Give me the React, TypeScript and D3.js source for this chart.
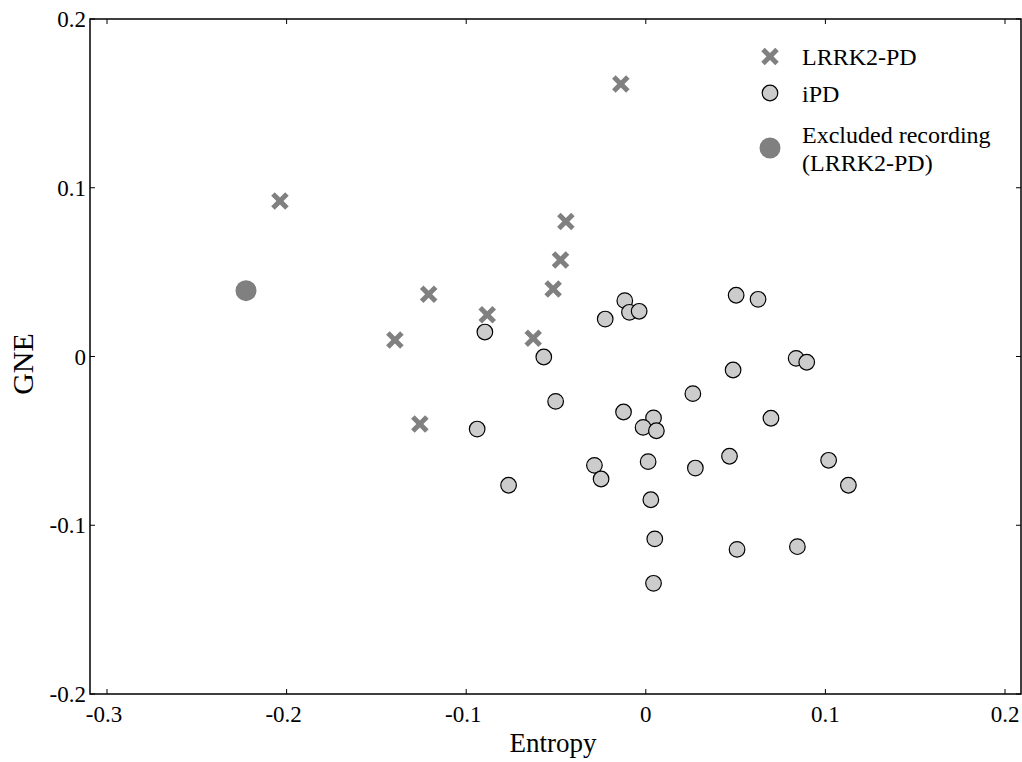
import React from "react";
import * as d3 from "d3";

const lrrkX = [-0.0139, -0.2037, -0.0445, -0.0475, -0.0516, -0.1209, -0.0883, -0.1397, -0.0627, -0.1258];
const lrrkY = [0.1615, 0.0921, 0.08, 0.0572, 0.04, 0.0369, 0.0248, 0.0098, 0.0108, -0.04];

const ipdX = [-0.0117, -0.0091, -0.0037, -0.0226, 0.0503, 0.0625, -0.0896, -0.0568, 0.0837, 0.0896, 0.0486, 0.0262, -0.0502, 0.0697, -0.0124, 0.0043, -0.0015, 0.0059, -0.0939, -0.0286, -0.0249, -0.0764, 0.0013, 0.0276, 0.0466, 0.1018, 0.1128, 0.0028, 0.005, 0.0508, 0.0844, 0.0043];
const ipdY = [0.0331, 0.0262, 0.0268, 0.0222, 0.0363, 0.0339, 0.0145, -0.0003, -0.0011, -0.0034, -0.008, -0.022, -0.0266, -0.0366, -0.0329, -0.0364, -0.042, -0.044, -0.043, -0.0645, -0.0726, -0.0763, -0.0623, -0.0661, -0.0591, -0.0615, -0.0763, -0.0849, -0.1081, -0.1143, -0.1127, -0.1344];

const excludedX = [-0.2226];
const excludedY = [0.039];

const xTicks = [-0.3, -0.2, -0.1, 0, 0.1, 0.2];
const yTicks = [-0.2, -0.1, 0, 0.1, 0.2];
const legendLabels = ["LRRK2-PD", "iPD", "Excluded recording", "(LRRK2-PD)"];

const FONT = "Liberation Serif, Times New Roman, serif";

export default function App() {
  const W = 1022, H = 762;
  const left = 90, right = 1021, top = 19, bottom = 694;
  const x = d3.scaleLinear().domain([-0.3, 0.2]).range([107, 1005]);
  const y = d3.scaleLinear().domain([-0.2, 0.2]).range([bottom, top]);
  const fmt = (v: number) => (Math.abs(v) < 1e-9 ? "0" : v.toFixed(1));
  const tl = 5;
  const cross = (cx: number, cy: number, key: string) => {
    const s = 7;
    return (
      <g key={key} stroke="#808080" strokeWidth={5} strokeLinecap="butt">
        <line x1={cx - s} y1={cy - s} x2={cx + s} y2={cy + s} />
        <line x1={cx - s} y1={cy + s} x2={cx + s} y2={cy - s} />
      </g>
    );
  };
  const ts = { fontFamily: FONT };
  return (
    <svg width={W} height={H} style={{ position: "absolute", left: 0, top: 0, display: "block" }}>
      <rect x={0} y={0} width={W} height={H} fill="#fff" />
      <rect x={left} y={top} width={right - left} height={bottom - top} fill="none" stroke="#000" strokeWidth={1.5} />
      {xTicks.map((t) => (
        <g key={"xt" + t}>
          <line x1={x(t)} x2={x(t)} y1={bottom} y2={bottom - tl} stroke="#000" strokeWidth={1} />
          <line x1={x(t)} x2={x(t)} y1={top} y2={top + tl} stroke="#000" strokeWidth={1} />
          <text x={x(t) - (t < 0 ? 3 : 0)} y={bottom + 28} fontSize={23} textAnchor="middle" style={ts}>{fmt(t)}</text>
        </g>
      ))}
      {yTicks.map((t) => (
        <g key={"yt" + t}>
          <line x1={left} x2={left + tl} y1={y(t)} y2={y(t)} stroke="#000" strokeWidth={1} />
          <line x1={right} x2={right - tl} y1={y(t)} y2={y(t)} stroke="#000" strokeWidth={1} />
          <text x={left - 4} y={y(t) + 8} fontSize={23} textAnchor="end" style={ts}>{fmt(t)}</text>
        </g>
      ))}
      <text x={553} y={752} fontSize={27} textAnchor="middle" style={ts}>Entropy</text>
      <text transform={`translate(33,364) rotate(-90)`} fontSize={30} textAnchor="middle" style={ts}>GNE</text>

      {ipdX.map((v, i) => (
        <circle key={"c" + i} cx={x(v)} cy={y(ipdY[i])} r={7.8} fill="#cccccc" stroke="#000" strokeWidth={1.2} />
      ))}
      {lrrkX.map((v, i) => cross(x(v), y(lrrkY[i]), "x" + i))}
      {excludedX.map((v, i) => (
        <circle key={"e" + i} cx={x(v)} cy={y(excludedY[i])} r={10.5} fill="#808080" />
      ))}

      {cross(770, 56.5, "legx")}
      <text x={802} y={65} fontSize={24} style={ts}>{legendLabels[0]}</text>
      <circle cx={770} cy={93} r={7.8} fill="#cccccc" stroke="#000" strokeWidth={1.2} />
      <text x={802} y={102} fontSize={24} style={ts}>{legendLabels[1]}</text>
      <circle cx={770} cy={148} r={10.5} fill="#808080" />
      <text x={802} y={143} fontSize={24} style={ts}>{legendLabels[2]}</text>
      <text x={802} y={171} fontSize={24} style={ts}>{legendLabels[3]}</text>
    </svg>
  );
}
